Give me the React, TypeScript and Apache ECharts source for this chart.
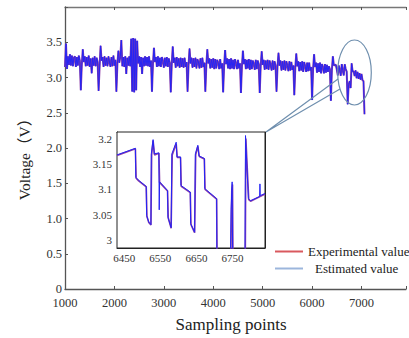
import React, { useEffect, useRef } from "react";
import * as echarts from "echarts";

// Sampling starts at 1000, one stored value every 20 sampling points
const mainStart = 1000;
const mainStep = 20;
const mainVoltage = [
  3.15, 3.48, 3.12, 3.30, 3.18, 3.33, 3.17, 3.31, 3.16, 3.28, 3.30, 3.15, 3.29, 3.17, 3.31, 3.24,
  2.82, 3.18, 3.40, 3.22, 3.30, 3.16, 3.29, 3.17, 3.31, 3.15, 3.27, 3.06, 3.28, 3.17, 3.30, 3.16, 3.28, 3.22,
  2.81, 3.15, 3.45, 3.24, 3.29, 3.15, 3.30, 3.17, 3.28, 3.16, 3.30, 3.22, 3.15, 3.29, 3.16, 3.31, 3.17, 3.25,
  2.80, 3.19, 3.38, 3.21, 3.30, 3.53, 3.16, 3.29, 3.15, 3.30, 3.05, 3.28, 3.17, 3.30, 3.16, 3.55, 2.80, 3.56,
  2.79, 3.55, 2.82, 3.52, 3.20, 3.30, 3.15, 3.29, 3.05, 3.28, 3.16, 3.30, 3.17, 3.29, 3.16, 3.30, 3.15, 3.24,
  2.80, 3.20, 3.42, 3.22, 3.29, 3.15, 3.30, 3.16, 3.28, 3.15, 3.29, 3.23, 3.14, 3.28, 3.16, 3.29, 3.15, 3.27, 3.21,
  2.79, 3.18, 3.44, 3.21, 3.28, 3.14, 3.29, 3.16, 3.27, 3.14, 3.28, 3.15, 3.27, 3.14, 3.28, 3.15, 3.22,
  2.80, 3.17, 3.41, 3.20, 3.28, 3.14, 3.27, 3.15, 3.28, 3.13, 3.26, 3.22, 3.13, 3.27, 3.14, 3.28, 3.15, 3.21,
  2.80, 3.18, 3.40, 3.20, 3.27, 3.13, 3.26, 3.14, 3.27, 3.12, 3.26, 3.13, 3.25, 3.21, 3.12, 3.26, 3.13, 3.20,
  2.79, 3.17, 3.39, 3.19, 3.27, 3.13, 3.26, 3.12, 3.27, 3.13, 3.25, 3.12, 3.26, 3.20, 3.12, 3.25, 3.13, 3.20,
  2.78, 3.16, 3.38, 3.19, 3.26, 3.12, 3.25, 3.13, 3.26, 3.11, 3.25, 3.12, 3.24, 3.19, 3.11, 3.25, 3.12, 3.24, 3.19,
  2.78, 3.16, 3.37, 3.18, 3.25, 3.11, 3.24, 3.12, 3.25, 3.11, 3.24, 3.18, 3.10, 3.24, 3.11, 3.23, 3.17,
  2.80, 3.15, 3.35, 3.17, 3.24, 3.10, 3.23, 3.11, 3.24, 3.10, 3.23, 3.17, 3.09, 3.23, 3.10, 3.22, 3.11, 3.17,
  2.75, 3.14, 3.34, 3.16, 3.23, 3.09, 3.22, 3.10, 3.23, 3.08, 3.22, 3.16, 3.08, 3.21, 3.09, 3.21, 3.10, 3.15,
  2.68, 3.12, 3.33, 3.15, 3.21, 3.07, 3.20, 3.08, 3.21, 3.06, 3.19, 3.14, 3.06, 3.19, 3.07, 3.18, 3.08, 3.16, 3.12,
  2.67, 3.10, 3.30,
  3.172, 3.176, 3.181, 3.112, 3.03, 3.17, 3.104, 3.025, 3.19, 3.10, 3.03, 3.187, 3.12, 3.084, 2.62, 2.90, 2.95, 2.85, 3.20, 3.085, 3.09,
  3.02, 3.10, 2.99, 3.08, 2.98, 3.06, 2.97, 3.05, 2.96, 2.95, 2.48,
];

const insetEstimated: [number, number][] = [
  [6430, 3.168], [6481, 3.181], [6482, 3.124], [6490, 3.118], [6511, 3.106], [6512, 3.049],
  [6518, 3.036], [6524, 3.031], [6525, 3.17], [6530, 3.198], [6533, 3.17], [6546, 3.172],
  [6547, 3.06], [6548, 3.115], [6570, 3.098], [6571, 3.046], [6580, 3.025], [6582, 3.17],
  [6594, 3.193], [6596, 3.164], [6606, 3.164], [6607, 3.108], [6633, 3.095], [6634, 3.033],
  [6645, 3.016], [6647, 3.17], [6654, 3.187], [6657, 3.166], [6672, 3.161], [6673, 3.102],
  [6706, 3.082], [6707, 2.9], [6743, 2.9], [6746, 3.06], [6749, 3.115], [6751, 2.9],
  [6784, 2.9], [6786, 3.206], [6794, 3.082], [6800, 3.078], [6825, 3.086], [6826, 3.111],
  [6827, 3.088], [6840, 3.092],
];

const insetExperimental: [number, number][] = [
  [6430, 3.167], [6481, 3.18], [6483, 3.122], [6490, 3.117], [6511, 3.105], [6513, 3.047],
  [6518, 3.035], [6524, 3.03], [6526, 3.168], [6530, 3.196], [6534, 3.168], [6546, 3.171],
  [6548, 3.114], [6570, 3.097], [6572, 3.044], [6580, 3.024], [6583, 3.168], [6594, 3.19],
  [6597, 3.163], [6606, 3.163], [6608, 3.106], [6633, 3.094], [6635, 3.031], [6645, 3.015],
  [6648, 3.168], [6654, 3.185], [6658, 3.165], [6672, 3.16], [6674, 3.1], [6706, 3.081],
  [6708, 2.9], [6744, 2.9], [6748, 3.1], [6750, 3.11], [6752, 2.9], [6785, 2.9],
  [6787, 3.2], [6795, 3.08], [6800, 3.077], [6840, 3.091],
];

const insetXLabels = [6450, 6550, 6650, 6750];
const insetXTicks = [6450, 6500, 6550, 6600, 6650, 6700, 6750, 6800];
const insetYTicks = [3, 3.05, 3.1, 3.15, 3.2];
const seriesNames = ["Experimental value", "Estimated value"];

const serif = "Liberation Serif, Noto Sans CJK SC, serif";
const purple = "#8e3fa6";
const blue = "#2424f5";

export default function App() {
  const ref = useRef<HTMLDivElement>(null);
  useEffect(() => {
    const chart = echarts.init(ref.current!, null, { renderer: "svg" });
    const mainData = mainVoltage.map((v, i) => [mainStart + i * mainStep, v]);
    const tickIn = { show: true, inside: true, length: 3, lineStyle: { color: "#555" } };
    const option: any = {
      animation: false,
      backgroundColor: "#fff",
      textStyle: { fontFamily: serif },
      legend: {
        orient: "vertical",
        left: 270,
        top: 240,
        itemWidth: 28,
        itemHeight: 2,
        itemGap: 4,
        icon: "rect",
        selectedMode: false,
        textStyle: { fontFamily: serif, fontSize: 13, color: "#222" },
        data: [
          { name: seriesNames[0], itemStyle: { color: "#d9595e" } },
          { name: seriesNames[1], itemStyle: { color: "#9cb6dc" }, textStyle: { padding: [0, 0, 0, 7] } },
        ],
      },
      grid: [
        { left: 65, top: 7, width: 344, height: 283 },
        { left: 117, top: 132, width: 148, height: 116, show: true, backgroundColor: "#fff", borderColor: "#222", borderWidth: 1, z: 3 },
      ],
      xAxis: [
        {
          type: "value", gridIndex: 0, min: 1000, max: 7900, interval: 1000,
          axisLine: { lineStyle: { color: "#555", width: 1.3 } },
          axisTick: tickIn, splitLine: { show: false },
          axisLabel: { color: "#333", fontFamily: serif, fontSize: 12.5, margin: 8, formatter: (v: number) => (v > 7000 ? "" : String(v)) },
          name: "Sampling points", nameLocation: "middle", nameGap: 27,
          nameTextStyle: { fontFamily: serif, fontSize: 17, color: "#222", padding: [0, 9, 0, 0] },
        },
        {
          type: "value", gridIndex: 0, position: "top", min: 1000, max: 7900, interval: 1000,
          axisLine: { lineStyle: { color: "#777", width: 1.3 } },
          axisTick: tickIn, axisLabel: { show: false }, splitLine: { show: false },
        },
        {
          type: "value", gridIndex: 1, min: 6430, max: 6840,
          axisLine: { lineStyle: { color: "#222" } },
          axisTick: { ...tickIn, customValues: insetXTicks },
          axisLabel: {
            color: "#333", fontFamily: serif, fontSize: 11, margin: 4, customValues: insetXLabels,
            formatter: (v: number) => String(v),
          },
          splitLine: { show: false },
        },
        {
          type: "value", gridIndex: 1, position: "top", min: 6430, max: 6840,
          axisLine: { lineStyle: { color: "#222" } },
          axisTick: { ...tickIn, customValues: insetXTicks },
          axisLabel: { show: false }, splitLine: { show: false },
        },
      ],
      yAxis: [
        {
          type: "value", gridIndex: 0, min: 0, max: 4, interval: 0.5,
          axisLine: { show: true, lineStyle: { color: "#555", width: 1.3 } },
          axisTick: tickIn, splitLine: { show: false },
          axisLabel: {
            color: "#333", fontFamily: serif, fontSize: 12.5, margin: 3,
            formatter: (v: number) => (v === 0 ? "0" : v >= 4 ? "" : v.toFixed(1)),
          },
          name: "Voltage（V）", nameLocation: "middle", nameGap: 33, nameRotate: 90,
          nameTextStyle: { fontFamily: serif, fontSize: 15.5, color: "#222", padding: [0, 15, 0, 0] },
        },
        {
          type: "value", gridIndex: 1, min: 2.985, max: 3.213,
          axisLine: { show: true, lineStyle: { color: "#222" } },
          axisTick: { ...tickIn, customValues: insetYTicks },
          axisLabel: {
            color: "#333", fontFamily: serif, fontSize: 11, margin: 5, customValues: insetYTicks,
            formatter: (v: number) => String(+v.toFixed(2)),
          },
          splitLine: { show: false },
        },
        {
          type: "value", gridIndex: 1, position: "right", min: 2.985, max: 3.213,
          axisLine: { show: true, lineStyle: { color: "#222" } },
          axisTick: { ...tickIn, customValues: insetYTicks },
          axisLabel: { show: false }, splitLine: { show: false },
        },
      ],
      series: [
        {
          name: seriesNames[0], type: "line", xAxisIndex: 0, yAxisIndex: 0, data: mainData,
          showSymbol: false, lineStyle: { color: purple, width: 2 }, itemStyle: { color: purple }, z: 2,
        },
        {
          name: seriesNames[1], type: "line", xAxisIndex: 0, yAxisIndex: 0, data: mainData,
          showSymbol: false, lineStyle: { color: blue, width: 1 }, itemStyle: { color: blue }, z: 3,
        },
        {
          name: seriesNames[0], type: "line", xAxisIndex: 2, yAxisIndex: 1, data: insetExperimental,
          showSymbol: false, lineStyle: { color: purple, width: 1.6 }, itemStyle: { color: purple }, z: 4,
        },
        {
          name: seriesNames[1], type: "line", xAxisIndex: 2, yAxisIndex: 1, data: insetEstimated,
          showSymbol: false, lineStyle: { color: blue, width: 1 }, itemStyle: { color: blue }, z: 5,
        },
      ],
      graphic: [
        {
          type: "ellipse", shape: { cx: 354.5, cy: 72.5, rx: 16.8, ry: 32.5 },
          style: { fill: "none", stroke: "#6f8fae", lineWidth: 1.2 }, z: 10,
        },
        {
          type: "polyline", shape: { points: [[338, 79], [266, 132], [340, 89]] },
          style: { fill: "none", stroke: "#6f8fae", lineWidth: 1.2 }, z: 10,
        },
      ],
    };
    chart.setOption(option);
    return () => chart.dispose();
  }, []);
  return <div ref={ref} style={{ position: "fixed", left: 0, top: 0, width: 409, height: 338 }} />;
}
